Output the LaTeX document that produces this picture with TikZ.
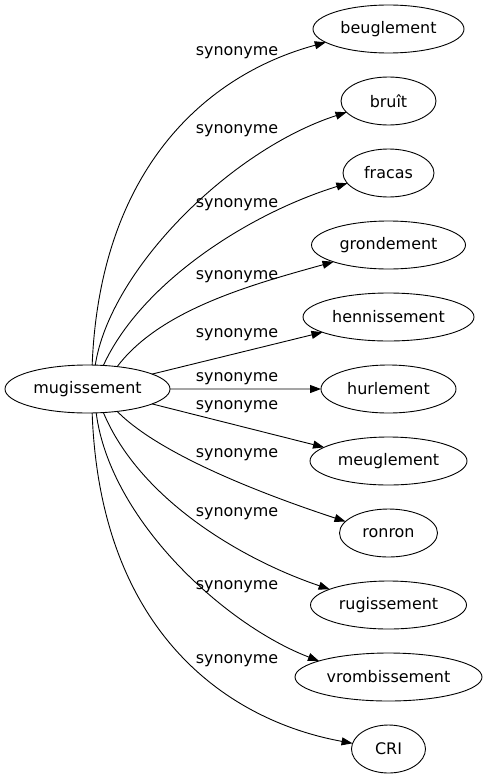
\documentclass[tikz,border=0pt]{standalone}
\usepackage{fontspec}
\setmainfont{DejaVu Sans}
\usepackage{tikz}
\usetikzlibrary{arrows.meta,shapes,positioning}
\tikzset{
    basic/.style  = {draw, ellipse, line width=0.9pt, inner sep=0pt, outer sep=0pt, minimum height=48bp, font=\fontsize{16}{19}\selectfont},
    head/.style   = {basic, minimum width=165bp},
    word/.style   = {basic},
    syn/.style    = {inner sep=0pt, anchor=base, font=\fontsize{16}{19}\selectfont},
    rel/.style    = {->, draw, line width=0.9pt}
}

\begin{document}
\begin{tikzpicture}[x=1bp, y=1bp, >={Triangle[length=11bp,width=8bp]}, node distance=24bp]
	\useasboundingbox (0,0) rectangle (488,-779);
	% central word
	\node[head] (mug) at (87.5,-389) {mugissement};
	% synonyms, one column
	\node[word, minimum width=151bp] (beug) at (388.5,-29) {beuglement};
	\node[word, minimum width=95bp,  below=of beug]  (bruit)  {bruît};
	\node[word, minimum width=91bp,  below=of bruit] (fracas) {fracas};
	\node[word, minimum width=154bp, below=of fracas] (grond) {grondement};
	\node[word, minimum width=171bp, below=of grond] (henn)   {hennissement};
	\node[word, minimum width=135bp, below=of henn]  (hurl)   {hurlement};
	\node[word, minimum width=157bp, below=of hurl]  (meug)   {meuglement};
	\node[word, minimum width=98bp,  below=of meug]  (ronron) {ronron};
	\node[word, minimum width=156bp, below=of ronron] (rugi)  {rugissement};
	\node[word, minimum width=187bp, below=of rugi]  (vromb)  {vrombissement};
	\node[word, minimum width=74bp,  below=of vromb] (cri)    {CRI};
	% edge labels
	\node[syn] (s-beug)   at (237,-56)  {synonyme};
	\node[syn] (s-bruit)  at (237,-133) {synonyme};
	\node[syn] (s-fracas) at (237,-207) {synonyme};
	\node[syn] (s-grond)  at (237,-279) {synonyme};
	\node[syn] (s-henn)   at (237,-337) {synonyme};
	\node[syn] (s-hurl)   at (237,-381) {synonyme};
	\node[syn] (s-meug)   at (237,-409) {synonyme};
	\node[syn] (s-ronron) at (237,-457) {synonyme};
	\node[syn] (s-rugi)   at (237,-516) {synonyme};
	\node[syn] (s-vromb)  at (237,-589) {synonyme};
	\node[syn] (s-cri)    at (237,-663) {synonyme};
	% edges
	\draw[rel] (mug.79) .. controls (100,-170) and (205,-75) .. (beug.192);
	\draw[rel] (mug.72) .. controls (110,-270) and (230,-150) .. (bruit.195);
	\draw[rel] (mug.56) .. controls (140,-285) and (245,-215) .. (fracas.194);
	\draw[rel] (mug.37) .. controls (160,-310) and (250,-285) .. (grond.197);
	\draw[rel] (mug.13) -- (henn.193);
	\draw[rel] (mug.east) -- (hurl.west);
	\draw[rel] (mug.-13) -- (meug.168);
	\draw[rel] (mug.-37) .. controls (160,-455) and (265,-495) .. (ronron.165);
	\draw[rel] (mug.-56) .. controls (140,-500) and (243,-560) .. (rugi.165);
	\draw[rel] (mug.-70) .. controls (110,-520) and (225,-625) .. (vromb.167);
	\draw[rel] (mug.-79) .. controls (100,-630) and (225,-720) .. (cri.171);
\end{tikzpicture}
\end{document}
